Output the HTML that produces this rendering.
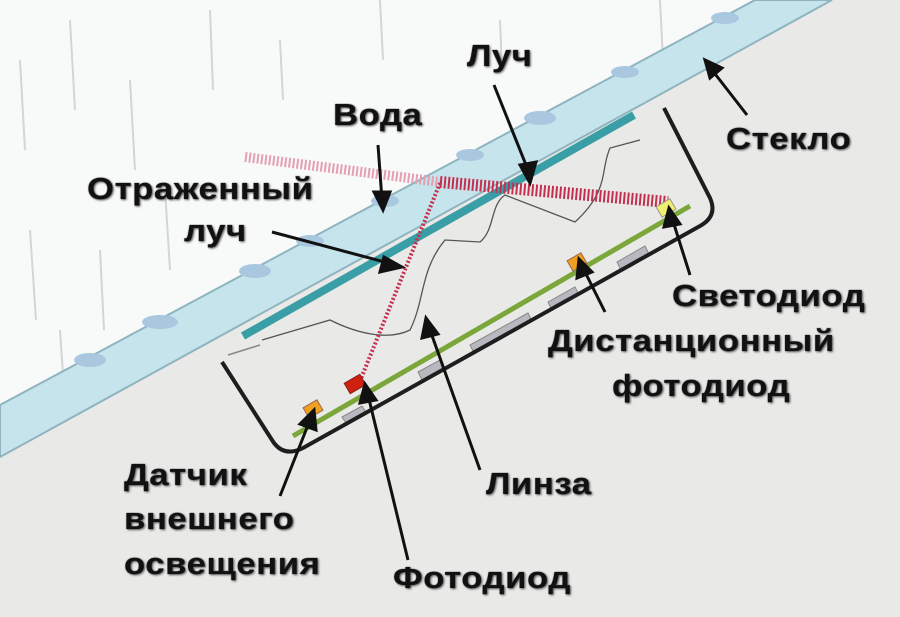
<!DOCTYPE html>
<html><head><meta charset="utf-8"><style>
html,body{margin:0;padding:0}
body{width:900px;height:617px;overflow:hidden;background:#f4f4f3;position:relative}
svg{position:absolute;left:0;top:0}
.t{position:absolute;font-family:"Liberation Sans",sans-serif;font-weight:bold;font-size:31px;letter-spacing:0.5px;transform:scaleX(1.12);transform-origin:left top;color:#111;white-space:nowrap;text-shadow:1px 1px 2px #555,0 0 1px #333;line-height:36px}
</style></head><body>
<svg width="900" height="617" viewBox="0 0 900 617">
<rect width="900" height="617" fill="#e9e9e7"/>
<polygon points="0,0 760,0 0,405" fill="#f8f9f9"/>
<g stroke="#d2d6d8" stroke-width="2">
<line x1="20" y1="60" x2="25" y2="150"/><line x1="70" y1="20" x2="75" y2="110"/><line x1="130" y1="80" x2="135" y2="170"/>
<line x1="210" y1="10" x2="213" y2="90"/><line x1="30" y1="230" x2="36" y2="320"/><line x1="100" y1="250" x2="104" y2="330"/>
<line x1="165" y1="190" x2="170" y2="270"/><line x1="280" y1="40" x2="283" y2="100"/><line x1="380" y1="0" x2="383" y2="60"/>
<line x1="60" y1="330" x2="64" y2="390"/><line x1="500" y1="20" x2="502" y2="70"/><line x1="660" y1="0" x2="663" y2="60"/>
</g>
<polygon points="0,405 755,0 832,0 0,457" fill="#c6e4ec" stroke="#8fb4c0" stroke-width="2"/>
<g fill="#a9c8e0">
<ellipse cx="90" cy="360" rx="16" ry="7"/><ellipse cx="160" cy="322" rx="18" ry="7"/><ellipse cx="255" cy="271" rx="16" ry="7"/>
<ellipse cx="310" cy="241" rx="14" ry="6"/><ellipse cx="385" cy="201" rx="14" ry="6"/><ellipse cx="470" cy="155" rx="14" ry="6"/>
<ellipse cx="540" cy="118" rx="16" ry="7"/><ellipse cx="625" cy="72" rx="14" ry="6"/><ellipse cx="725" cy="18" rx="14" ry="6"/>
</g>
<line x1="243" y1="336" x2="634" y2="115" stroke="#3a9ea6" stroke-width="8"/>
<path d="M262,340 L330,320 C360,335 390,340 410,330 C425,300 420,270 445,240 L480,242 C495,230 490,205 505,195 L575,222 C610,190 600,170 610,148 L640,140" fill="none" stroke="#555" stroke-width="1.3"/>
<line x1="228" y1="355" x2="260" y2="345" stroke="#888" stroke-width="1.5"/>
<g fill="#b8b8c0" stroke="#888" stroke-width="1">
<polygon points="342,417 362,406 366,412 346,423"/><polygon points="418,372 440,360 444,368 422,380"/>
<polygon points="470,345 528,313 532,321 474,353"/><polygon points="548,302 575,287 579,295 552,310"/>
<polygon points="617,262 645,246 649,254 621,270"/>
</g>
<line x1="293" y1="436" x2="690" y2="206" stroke="#7aa63a" stroke-width="5"/>
<path d="M222,362 L272,440 Q283,458 303,448 L700,226 Q718,216 710,198 L664,108" fill="none" stroke="#1e1e1e" stroke-width="4"/>
<line x1="245" y1="157" x2="440" y2="182" stroke="#e4a0b0" stroke-width="10" stroke-dasharray="2 2"/>
<line x1="440" y1="182" x2="668" y2="202" stroke="#c43050" stroke-width="12" stroke-dasharray="2 2"/>
<line x1="440" y1="183" x2="358" y2="386" stroke="#c43050" stroke-width="4" stroke-dasharray="2 2"/>
<rect x="658" y="202" width="16" height="12" fill="#f0f070" stroke="#998" transform="rotate(-30 666 208)"/>
<rect x="569" y="256" width="16" height="12" fill="#f0a020" stroke="#965" transform="rotate(-30 577 262)"/>
<rect x="346" y="378" width="18" height="12" fill="#d02010" stroke="#822" transform="rotate(-30 355 384)"/>
<rect x="305" y="403" width="16" height="12" fill="#f0a020" stroke="#965" transform="rotate(-30 313 409)"/>
<g stroke="#111" stroke-width="3" fill="#111">
<line x1="494" y1="85" x2="530" y2="175"/><polygon points="530,183 520,165 536,162"/>
<line x1="378" y1="145" x2="382" y2="200"/><polygon points="383,210 374,192 390,192"/>
<line x1="272" y1="232" x2="392" y2="264"/><polygon points="402,267 384,257 380,272"/>
<line x1="747" y1="115" x2="712" y2="70"/><polygon points="705,60 722,68 710,78"/>
<line x1="690" y1="275" x2="672" y2="218"/><polygon points="669,208 680,224 664,227"/>
<line x1="605" y1="312" x2="583" y2="268"/><polygon points="579,259 592,272 577,278"/>
<line x1="480" y1="470" x2="430" y2="330"/><polygon points="426,318 438,334 422,338"/>
<line x1="408" y1="560" x2="368" y2="395"/><polygon points="365,384 376,400 360,403"/>
<line x1="280" y1="496" x2="310" y2="420"/><polygon points="314,410 316,430 300,424"/>
</g>
</svg>
<div class="t" style="left:467px;top:38px">Луч</div>
<div class="t" style="left:333px;top:97px">Вода</div>
<div class="t" style="left:726px;top:121px">Стекло</div>
<div class="t" style="left:87px;top:171px">Отраженный</div>
<div class="t" style="left:184px;top:213px">луч</div>
<div class="t" style="left:672px;top:278px">Светодиод</div>
<div class="t" style="left:548px;top:323px">Дистанционный</div>
<div class="t" style="left:612px;top:368px">фотодиод</div>
<div class="t" style="left:486px;top:466px">Линза</div>
<div class="t" style="left:124px;top:457px">Датчик</div>
<div class="t" style="left:124px;top:501px">внешнего</div>
<div class="t" style="left:124px;top:546px">освещения</div>
<div class="t" style="left:393px;top:560px">Фотодиод</div>
</body></html>
